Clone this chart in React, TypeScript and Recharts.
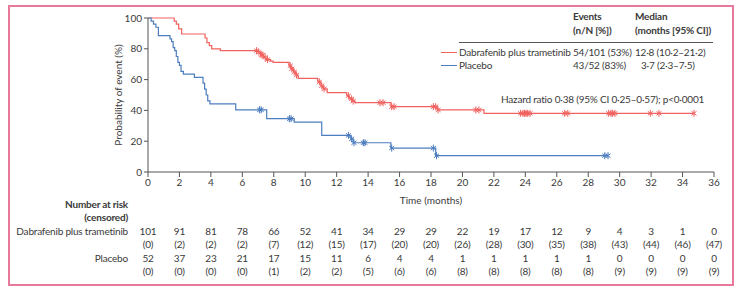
import { ComposedChart, Line, Scatter, XAxis, YAxis, Label } from 'recharts';

const FONT = 'Lato, "Noto Sans", sans-serif';
const RED = '#f0625f';
const BLUE = '#4c7dbf';
const INK = '#3a3a3a';
const FS = 10;
const LS = -0.2;

// Kaplan-Meier steps (time in months, % without event)
const dabTimes = [0, 1.67, 1.8, 1.95, 2.14, 3.63, 3.75, 3.9, 4.05, 4.6, 7.0, 7.2, 7.35, 7.5, 7.8, 7.96, 8.97, 9.1, 9.25, 9.4, 9.55, 10.8, 11.0, 11.15, 11.4, 12.64, 12.8, 13.0, 13.17, 15.46, 18.4, 21.37, 34.73];
const dabValues = [100, 98, 96, 93, 89.6, 87, 84, 82, 79.9, 78.8, 77.8, 76, 74.5, 73, 72, 71.2, 69, 67, 65, 63, 60.8, 58.5, 56, 54, 51.5, 49.5, 47.5, 46, 45, 42.4, 40.3, 38.1, 38.1];
const dabCensored = [6.9, 7.05, 7.2, 7.3, 7.45, 7.6, 9.05, 9.15, 9.3, 9.45, 10.9, 11.05, 11.2, 12.75, 12.95, 13.05, 14.75, 14.95, 15.5, 15.65, 18.15, 18.3, 18.45, 20.85, 21.05, 23.7, 23.85, 23.95, 24.05, 24.15, 24.3, 26.5, 26.7, 29.3, 29.45, 29.55, 29.7, 31.95, 32.5, 34.73];

const plaTimes = [0, 0.2, 0.35, 0.5, 0.66, 1.4, 1.5, 1.6, 1.7, 1.8, 1.9, 2.0, 2.1, 2.25, 2.95, 3.5, 3.6, 3.7, 3.8, 3.94, 5.58, 7.55, 9.3, 11.05, 12.9, 13.05, 15.45, 18.3, 29.26];
const plaValues = [100, 98, 96, 94, 88.5, 86.5, 84.6, 80.8, 78.8, 75, 71.2, 69.2, 65.4, 63.5, 61.5, 57.7, 53.8, 50, 46.2, 44.2, 40.4, 34.6, 32.4, 23.8, 21.5, 19, 15.5, 10.6, 10.6];
const plaCensored = [7.1, 7.2, 9.0, 9.1, 12.75, 12.95, 13.1, 13.7, 13.8, 15.5, 18.15, 18.35, 29.05, 29.26];

const xTicks = [0, 2, 4, 6, 8, 10, 12, 14, 16, 18, 20, 22, 24, 26, 28, 30, 32, 34, 36];
const yTicks = [0, 20, 40, 60, 80, 100];

// number at risk (censored) at each x tick
const dabAtRisk = [101, 91, 81, 78, 66, 52, 41, 34, 29, 29, 22, 19, 17, 12, 9, 4, 3, 1, 0];
const dabCens = [0, 2, 2, 2, 7, 12, 15, 17, 20, 20, 26, 28, 30, 35, 38, 43, 44, 46, 47];
const plaAtRisk = [52, 37, 23, 21, 17, 15, 11, 6, 4, 4, 1, 1, 1, 1, 1, 0, 0, 0, 0];
const plaCens = [0, 0, 0, 0, 1, 2, 2, 5, 6, 6, 8, 8, 8, 8, 8, 9, 9, 9, 9];

const toSteps = (ts: number[], vs: number[]) => ts.map((t, i) => ({ t, p: vs[i] }));
const valueAt = (ts: number[], vs: number[], t: number) => {
  let v = vs[0];
  ts.forEach((s, i) => { if (s <= t) v = vs[i]; });
  return v;
};
const toMarks = (cs: number[], ts: number[], vs: number[]) => cs.map((t) => ({ t, p: valueAt(ts, vs, t) }));

const dabSteps = toSteps(dabTimes, dabValues);
const plaSteps = toSteps(plaTimes, plaValues);
const dabMarks = toMarks(dabCensored, dabTimes, dabValues);
const plaMarks = toMarks(plaCensored, plaTimes, plaValues);

const CensorMark = ({ cx, cy, color }: any) => (
  <g stroke={color} strokeWidth={1}>
    <line x1={cx} y1={cy - 3.5} x2={cx} y2={cy + 3.5} />
    <line x1={cx - 2.5} y1={cy - 2} x2={cx + 2.5} y2={cy + 2} />
    <line x1={cx - 2.5} y1={cy + 2} x2={cx + 2.5} y2={cy - 2} />
  </g>
);

const ROWS = [231, 244, 258, 271];

const RiskTick = ({ x, payload }: any) => {
  const i = xTicks.indexOf(payload.value);
  const vals = [dabAtRisk[i], `(${dabCens[i]})`, plaAtRisk[i], `(${plaCens[i]})`];
  return (
    <g fontFamily={FONT} fontSize={FS} fill={INK} style={{ letterSpacing: LS }}>
      {vals.map((v, k) => (
        <text key={k} x={x} y={ROWS[k] + 3.5} textAnchor="middle">{v}</text>
      ))}
      {i === 0 && (
        <g textAnchor="end">
          <text x={128} y={207.5} fontWeight={700}>Number at risk</text>
          <text x={128} y={220.5} fontWeight={700}>(censored)</text>
          <text x={128} y={ROWS[0] + 3.5}>Dabrafenib plus trametinib</text>
          <text x={128} y={ROWS[2] + 3.5}>Placebo</text>
        </g>
      )}
    </g>
  );
};

const txt = (left: number, top: number, s: string, bold = false) => (
  <div style={{ position: 'absolute', left, top: top - 7, lineHeight: '14px', fontSize: FS, letterSpacing: LS, fontWeight: bold ? 700 : 400, color: INK, whiteSpace: 'nowrap' }}>{s}</div>
);

const axisText = { fill: INK, fontSize: FS, fontFamily: FONT };

export default function App() {
  return (
    <div style={{ position: 'absolute', left: 0, top: 0, width: 737, height: 289, background: '#fff', fontFamily: FONT }}>
      <div style={{ position: 'absolute', left: 8, top: 5, width: 722, height: 277, border: '2px solid #e8799a' }} />
      <ComposedChart width={737} height={289} margin={{ top: 18, right: 23, bottom: 0, left: 108 }} style={{ position: 'absolute', left: 0, top: 0 }}>
        <XAxis dataKey="t" type="number" domain={[0, 36]} ticks={xTicks} interval={0} height={32}
          stroke="#555" tickSize={5} tick={axisText}>
          <Label value="Time (months)" position="insideBottom" offset={0} style={axisText} />
        </XAxis>
        <XAxis xAxisId="risk" dataKey="t" type="number" domain={[0, 36]} ticks={xTicks} interval={0} height={85}
          axisLine={false} tickLine={false} tick={<RiskTick />} />
        <YAxis dataKey="p" type="number" domain={[0, 100]} ticks={yTicks} width={40}
          stroke="#555" tickSize={4} tick={axisText}>
          <Label value="Probability of event (%)" angle={-90} position="insideLeft" offset={10}
            style={{ ...axisText, textAnchor: 'middle' }} />
        </YAxis>
        <Line data={dabSteps} dataKey="p" type="stepAfter" stroke={RED} strokeWidth={1.2} dot={false} isAnimationActive={false} />
        <Line data={plaSteps} dataKey="p" type="stepAfter" stroke={BLUE} strokeWidth={1.2} dot={false} isAnimationActive={false} />
        {/* invisible series so the risk-table axis gets drawn */}
        <Line xAxisId="risk" data={dabSteps} dataKey="p" stroke="none" dot={false} activeDot={false} isAnimationActive={false} />
        <Scatter data={dabMarks} dataKey="p" shape={<CensorMark color={RED} />} isAnimationActive={false} />
        <Scatter data={plaMarks} dataKey="p" shape={<CensorMark color={BLUE} />} isAnimationActive={false} />
      </ComposedChart>

      {/* legend table */}
      {txt(573, 16, 'Events', true)}
      {txt(573, 30, '(n/N [%])', true)}
      {txt(635, 16, 'Median', true)}
      {txt(635, 30, '(months [95% CI])', true)}
      <div style={{ position: 'absolute', left: 459, top: 42, width: 254, height: 1, background: '#555' }} />
      <div style={{ position: 'absolute', left: 441, top: 52, width: 16, height: 1.2, background: RED }} />
      <div style={{ position: 'absolute', left: 441, top: 65, width: 16, height: 1.2, background: BLUE }} />
      {txt(459, 52, 'Dabrafenib plus trametinib')}
      {txt(573, 52, '54/101 (53%)')}
      {txt(635, 52, '12·8 (10·2–21·2)')}
      {txt(459, 65, 'Placebo')}
      {txt(573, 65, '43/52 (83%)')}
      {txt(641, 65, '3·7 (2·3–7·5)')}
      {txt(501, 99, 'Hazard ratio 0·38 (95% CI 0·25–0·57); p<0·0001')}
    </div>
  );
}
